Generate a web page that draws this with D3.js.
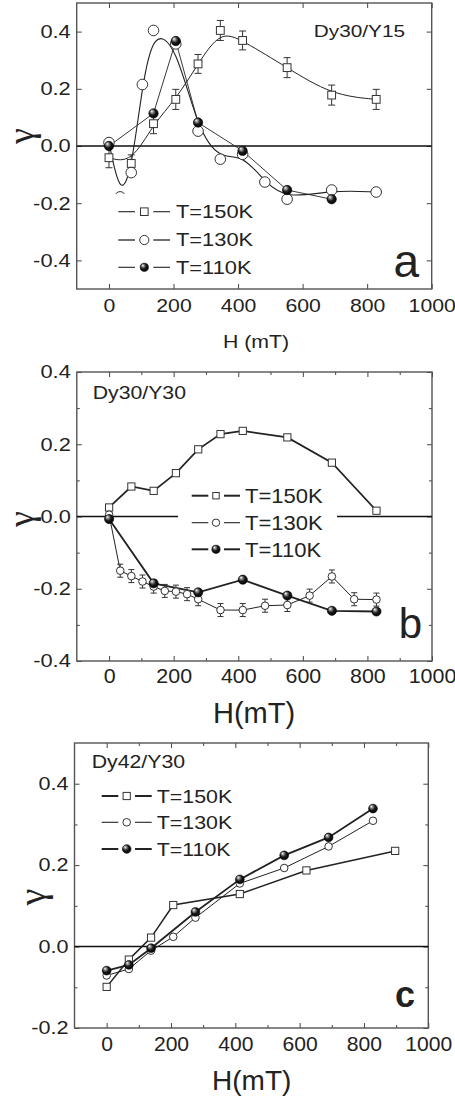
<!DOCTYPE html>
<html>
<head>
<meta charset="utf-8">
<script src="https://cdn.jsdelivr.net/npm/d3@7"></script>
<style>
  body { margin: 0; background: #fff; }
  svg { display: block; }
  text { font-family: "Liberation Sans", Arial, sans-serif; fill: #222; }
</style>
</head>
<body>
<div id="chart"></div>
<script>
// ---- panel a : Dy30/Y15 ----
const a150H = [0, 69, 138, 207, 276, 345, 414, 552, 690, 828];
const a150G = [-0.041, -0.061, 0.078, 0.163, 0.287, 0.404, 0.369, 0.274, 0.178, 0.163];
const a150E = [0.035, 0.03, 0.035, 0.035, 0.033, 0.035, 0.033, 0.035, 0.035, 0.035];
const a130H = [0, 34.5, 69, 103.5, 138, 207, 276, 345, 414, 483, 552, 690, 828];
const a130G = [0.012, -0.178, -0.093, 0.215, 0.404, 0.357, 0.052, -0.046, -0.029, -0.126, -0.186, -0.154, -0.161];
const a110H = [0, 138, 207, 276, 414, 552, 690];
const a110G = [0.0, 0.114, 0.367, 0.082, -0.017, -0.154, -0.186];

// ---- panel b : Dy30/Y30 ----
const b150H = [0, 69, 138, 207, 276, 345, 414, 552, 690, 828];
const b150G = [0.025, 0.083, 0.071, 0.12, 0.186, 0.228, 0.237, 0.219, 0.149, 0.016];
const b130H = [0, 34.5, 69, 103.5, 138, 172.5, 207, 241.5, 276, 345, 414, 483, 552, 621, 690, 759, 828];
const b130G = [0.005, -0.150, -0.165, -0.180, -0.194, -0.206, -0.208, -0.215, -0.229, -0.259, -0.259, -0.247, -0.245, -0.219, -0.166, -0.229, -0.230];
const b130E = [0, 0.018, 0.018, 0.018, 0.018, 0.018, 0.018, 0.018, 0.018, 0.018, 0.018, 0.018, 0.018, 0.018, 0.018, 0.018, 0.018];
const b110H = [0, 138, 276, 414, 552, 690, 828];
const b110G = [-0.007, -0.185, -0.21, -0.175, -0.219, -0.261, -0.263];

// ---- panel c : Dy42/Y30 ----
const c150H = [0, 69, 138, 207, 414, 621, 897];
const c150G = [-0.099, -0.032, 0.022, 0.102, 0.129, 0.187, 0.235];
const c130H = [0, 69, 138, 207, 276, 414, 552, 690, 828];
const c130G = [-0.071, -0.055, -0.010, 0.024, 0.071, 0.155, 0.193, 0.246, 0.309];
const c110H = [0, 69, 138, 276, 414, 552, 690, 828];
const c110G = [-0.059, -0.045, -0.004, 0.085, 0.165, 0.224, 0.268, 0.339];

// ---- ticks and labels ----
const xTicks = [0, 200, 400, 600, 800, 1000];
const xMinor = [100, 300, 500, 700, 900];
const yTicksA = [-0.4, -0.2, 0.0, 0.2, 0.4];
const yTicksB = [-0.4, -0.2, 0.0, 0.2, 0.4];
const yMinorB = [-0.3, -0.1, 0.1, 0.3];
const yTicksC = [-0.2, 0.0, 0.2, 0.4];
const yMinorC = [-0.1, 0.1, 0.3];
const legendLabels = ['T=150K', 'T=130K', 'T=110K'];
const samples = ['Dy30/Y15', 'Dy30/Y30', 'Dy42/Y30'];
const letters = ['a', 'b', 'c'];

const svg = d3.select('#chart').append('svg')
              .attr('width', 455)
              .attr('height', 1101);

const grad = svg.append('defs').append('radialGradient')
                .attr('id', 'ball')
                .attr('cx', '45%').attr('cy', '42%').attr('r', '62%')
                .attr('fx', '30%').attr('fy', '26%');
grad.append('stop').attr('offset', '0%').attr('stop-color', '#fff');
grad.append('stop').attr('offset', '22%').attr('stop-color', '#999');
grad.append('stop').attr('offset', '55%').attr('stop-color', '#1a1a1a');
grad.append('stop').attr('offset', '100%').attr('stop-color', '#000');

const fmt = d => d.toFixed(1);

function stretchText(g, x, y, str, size, sx, anchor, extra) {
  const t = g.append('text')
             .attr('transform', `translate(${x},${y}) scale(${sx},1)`)
             .attr('text-anchor', anchor)
             .style('font-size', size + 'px')
             .text(str);
  if (extra) extra(t);
  return t;
}

function marker(g, shape, cx, cy, r) {
  if (shape === 'square') {
    g.append('rect')
     .attr('x', cx - r).attr('y', cy - r)
     .attr('width', 2 * r).attr('height', 2 * r)
     .attr('fill', '#fff').attr('stroke', '#333').attr('stroke-width', 1);
  } else if (shape === 'circle') {
    g.append('circle')
     .attr('cx', cx).attr('cy', cy).attr('r', r)
     .attr('fill', '#fff').attr('stroke', '#333').attr('stroke-width', 1);
  } else {
    g.append('circle')
     .attr('cx', cx).attr('cy', cy).attr('r', r)
     .attr('fill', 'url(#ball)').attr('stroke', '#000').attr('stroke-width', 0.6);
  }
}

function drawPanel(p) {
  const g = svg.append('g');
  const x = d3.scaleLinear().domain([-100, 1000]).range(p.xRange);
  const y = d3.scaleLinear().domain(p.yDom).range(p.yRange);
  const [x0, x1] = p.xRange, [y0, y1] = [p.yRange[1], p.yRange[0]];

  // axes, ticks inward
  [[d3.axisBottom(x), `translate(0,${y1})`, true],
   [d3.axisTop(x), `translate(0,${y0})`, false]].forEach(([ax, tr, lab]) => {
    const a = g.append('g').attr('transform', tr)
               .call(ax.tickValues(xTicks).tickSizeInner(-5).tickSizeOuter(0)
                       .tickPadding(p.xPad).tickFormat(lab ? d3.format('d') : ''));
    if (p.minor) {
      g.append('g').attr('transform', tr)
       .call(ax.tickValues(xMinor).tickSizeInner(-3).tickFormat(''))
       .select('.domain').remove();
    }
    a.select('.domain').remove();
    a.selectAll('text')
     .style('font-size', p.xFont + 'px')
     .style('font-family', '"Liberation Sans", Arial, sans-serif')
     .attr('fill', '#222')
     .attr('transform', `scale(${p.xSx},1)`);
  });

  [[d3.axisLeft(y), `translate(${x0},0)`, true],
   [d3.axisRight(y), `translate(${x1},0)`, false]].forEach(([ax, tr, lab]) => {
    const a = g.append('g').attr('transform', tr)
               .call(ax.tickValues(p.yTicks).tickSizeInner(-5).tickSizeOuter(0)
                       .tickPadding(6).tickFormat(lab ? fmt : ''));
    if (p.minor) {
      g.append('g').attr('transform', tr)
       .call(ax.tickValues(p.yMinor).tickSizeInner(-3).tickFormat(''))
       .select('.domain').remove();
    }
    a.select('.domain').remove();
    a.selectAll('text')
     .style('font-size', p.yFont + 'px')
     .style('font-family', '"Liberation Sans", Arial, sans-serif')
     .attr('fill', '#222')
     .attr('x', -6 / p.ySx)
     .attr('transform', `scale(${p.ySx},1)`);
  });
  g.selectAll('.tick line').attr('stroke', '#444');

  g.append('rect')
   .attr('x', x0).attr('y', y0)
   .attr('width', x1 - x0).attr('height', y1 - y0)
   .attr('fill', 'none').attr('stroke', '#555').attr('stroke-width', 1.4);

  // zero line
  g.append('line')
   .attr('x1', x0).attr('x2', x1)
   .attr('y1', y(0)).attr('y2', y(0))
   .attr('stroke', '#111').attr('stroke-width', 1.5);

  // series lines
  p.series.forEach(s => {
    const pts = s.H.map((h, i) => [x(h), y(s.G[i])]);
    g.append('path')
     .attr('d', d3.line().curve(s.curve || d3.curveLinear)(pts))
     .attr('fill', 'none').attr('stroke', '#222').attr('stroke-width', s.lw);
  });

  // error bars, then markers
  p.series.forEach(s => {
    if (!s.E) return;
    s.H.forEach((h, i) => {
      const e = s.E[i];
      if (!e) return;
      const cx = x(h), ya = y(s.G[i] + e), yb = y(s.G[i] - e);
      g.append('path')
       .attr('d', `M${cx},${ya}V${yb}M${cx - s.cap},${ya}H${cx + s.cap}M${cx - s.cap},${yb}H${cx + s.cap}`)
       .attr('fill', 'none').attr('stroke', '#333').attr('stroke-width', 1);
    });
  });
  p.series.forEach(s => {
    s.H.forEach((h, i) => marker(g, s.shape, x(h), y(s.G[i]), s.r));
  });

  // legend
  const L = p.legend;
  if (L.box) {
    g.append('rect')
     .attr('x', L.box[0]).attr('y', L.box[1])
     .attr('width', L.box[2]).attr('height', L.box[3])
     .attr('fill', '#fff');
  }
  p.series.forEach((s, i) => {
    const yy = L.rows[i];
    g.append('line')
     .attr('x1', L.l1[0]).attr('x2', L.l1[1]).attr('y1', yy).attr('y2', yy)
     .attr('stroke', '#222').attr('stroke-width', s.llw);
    g.append('line')
     .attr('x1', L.l2[0]).attr('x2', L.l2[1]).attr('y1', yy).attr('y2', yy)
     .attr('stroke', '#222').attr('stroke-width', s.llw);
    marker(g, s.shape, L.mx, yy, L.r[i]);
    stretchText(g, L.tx, yy + L.size * 0.36, legendLabels[i], L.size, L.sx, 'start');
  });

  // sample name, panel letter, axis titles
  stretchText(g, p.title[0], p.title[1], p.name, p.title[2], p.title[3], p.title[4]);
  stretchText(g, p.letter[0], p.letter[1], p.id, p.letter[2], 1, 'end',
              t => t.style('font-weight', p.letter[3]));
  stretchText(g, p.xTitle[0], p.xTitle[1], p.xTitle[4], p.xTitle[2], p.xTitle[3], 'middle');
  g.append('text')
   .attr('transform', `translate(${p.gamma[0]},${p.gamma[1]}) rotate(-90)`)
   .attr('text-anchor', 'middle')
   .style('font-family', '"Liberation Serif", "DejaVu Serif", serif')
   .style('font-size', p.gamma[2] + 'px')
   .text('γ');
}

drawPanel({
  id: letters[0], name: samples[0],
  xRange: [76.7, 431.7], yDom: [-0.5, 0.5], yRange: [289, 3],
  yTicks: yTicksA, minor: false,
  xPad: 10, xFont: 18, xSx: 1.18, yFont: 18.5, ySx: 1.18,
  series: [
    { H: a150H, G: a150G, E: a150E, cap: 3.5, shape: 'square', r: 3.9, lw: 1, llw: 1.1, curve: d3.curveBasis },
    { H: a130H, G: a130G, shape: 'circle', r: 5.3, lw: 1.1, llw: 1.3, curve: d3.curveBasis },
    { H: a110H, G: a110G, shape: 'ball', r: 4.7, lw: 0.9, llw: 1.1 }
  ],
  legend: { box: [110, 194, 152, 88], rows: [211.7, 240, 267.3], l1: [118.3, 135], l2: [153.3, 170],
            mx: 144.3, r: [3.8, 4.6, 4.1], tx: 176, size: 17.5, sx: 1.25 },
  title: [405, 36.7, 16.5, 1.26, 'end'],
  letter: [419, 277, 46, 'normal'],
  xTitle: [256, 348, 19, 1.12, 'H (mT)'],
  gamma: [33, 136, 36]
});

drawPanel({
  id: letters[1], name: samples[1],
  xRange: [76.8, 432], yDom: [-0.4, 0.4], yRange: [661, 372],
  yTicks: yTicksB, yMinor: yMinorB, minor: true,
  xPad: 8, xFont: 20, xSx: 1.07, yFont: 18.5, ySx: 1.18,
  series: [
    { H: b150H, G: b150G, shape: 'square', r: 3.6, lw: 1.7, llw: 2 },
    { H: b130H, G: b130G, E: b130E, cap: 3, shape: 'circle', r: 3.8, lw: 1, llw: 1.1 },
    { H: b110H, G: b110G, shape: 'ball', r: 4.6, lw: 1.8, llw: 2 }
  ],
  legend: { box: [178, 482, 159, 80], rows: [495.7, 522.7, 549.3], l1: [191.7, 208.3], l2: [224, 240],
            mx: 216, r: [3.2, 3.7, 4.1], tx: 245, size: 21, sx: 1.05 },
  title: [92.7, 399, 17.7, 1.2, 'start'],
  letter: [422, 638, 42, 'normal'],
  xTitle: [254, 723, 29, 1, 'H(mT)'],
  gamma: [33, 519, 36]
});

drawPanel({
  id: letters[2], name: samples[2],
  xRange: [74.5, 428.3], yDom: [-0.2, 0.5], yRange: [1028, 743],
  yTicks: yTicksC, yMinor: yMinorC, minor: true,
  xPad: 8, xFont: 20.5, xSx: 1.03, yFont: 18, ySx: 1.2,
  series: [
    { H: c150H, G: c150G, shape: 'square', r: 3.6, lw: 1.5, llw: 2 },
    { H: c130H, G: c130G, shape: 'circle', r: 3.8, lw: 1, llw: 1.1 },
    { H: c110H, G: c110G, shape: 'ball', r: 4.4, lw: 1.8, llw: 2 }
  ],
  legend: { box: null, rows: [796, 822.3, 849], l1: [101.7, 118.3], l2: [135, 151.7],
            mx: 126.7, r: [3.6, 3.8, 4.3], tx: 156.7, size: 18.6, sx: 1.15 },
  title: [91.7, 768, 18.5, 1.15, 'start'],
  letter: [415, 1006.7, 36, 'bold'],
  xTitle: [251.7, 1090, 28, 1, 'H(mT)'],
  gamma: [45, 897, 38]
});
</script>
</body>
</html>
